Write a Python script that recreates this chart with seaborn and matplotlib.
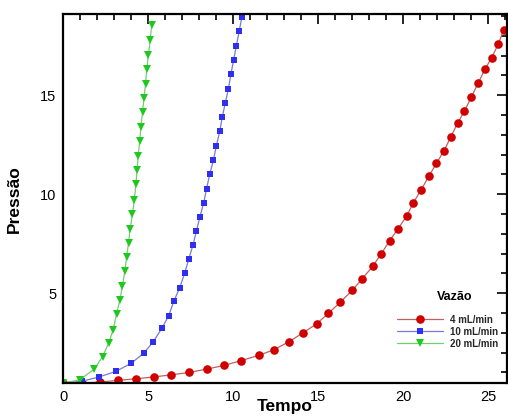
import matplotlib
matplotlib.use("Agg")
import matplotlib.pyplot as plt
import seaborn as sns
import pandas as pd
from matplotlib.ticker import MultipleLocator

sns.set_theme(style="white")
plt.rcParams['font.family'] = ['Liberation Sans', 'DejaVu Sans']

# marker points (Tempo, Pressão)
t_4 = [0.0, 1.08, 2.15, 3.23, 4.27, 5.32, 6.36, 7.42, 8.45, 9.45, 10.47, 11.5, 12.4,
       13.3, 14.1, 14.9, 15.6, 16.3, 17.0, 17.6, 18.2, 18.7, 19.2, 19.7, 20.2, 20.6,
       21.05, 21.5, 21.95, 22.4, 22.8, 23.2, 23.6, 24.0, 24.4, 24.8, 25.2, 25.6, 25.9]
p_4 = [0.46, 0.46, 0.51, 0.6, 0.68, 0.77, 0.88, 1.0, 1.17, 1.35, 1.6, 1.86, 2.15,
       2.56, 3.0, 3.45, 3.99, 4.55, 5.15, 5.74, 6.36, 6.98, 7.66, 8.26, 8.9, 9.58,
       10.22, 10.9, 11.56, 12.2, 12.9, 13.6, 14.2, 14.9, 15.6, 16.3, 16.9, 17.6, 18.3]

t_10 = [0.0, 1.08, 2.1, 3.09, 4.01, 4.74, 5.3, 5.81, 6.2, 6.51, 6.85, 7.14, 7.38,
        7.63, 7.83, 8.04, 8.26, 8.43, 8.61, 8.83, 9.0, 9.2, 9.35, 9.53, 9.71, 9.86,
        10.02, 10.18, 10.35, 10.5]
p_10 = [0.46, 0.55, 0.77, 1.05, 1.47, 1.98, 2.56, 3.24, 3.87, 4.61, 5.28, 6.01, 6.72,
        7.44, 8.14, 8.87, 9.57, 10.28, 11.0, 11.71, 12.43, 13.17, 13.89, 14.61, 15.32,
        16.06, 16.78, 17.5, 18.24, 18.94]

t_20 = [0.0, 0.98, 1.82, 2.31, 2.68, 2.93, 3.13, 3.33, 3.48, 3.62, 3.72, 3.84, 3.93,
        4.07, 4.18, 4.27, 4.34, 4.40, 4.50, 4.56, 4.66, 4.75, 4.84, 4.91, 5.01, 5.11, 5.2]
p_20 = [0.46, 0.63, 1.17, 1.8, 2.5, 3.15, 3.94, 4.66, 5.37, 6.11, 6.82, 7.55, 8.26,
        8.98, 9.72, 10.5, 11.2, 11.94, 12.68, 13.4, 14.14, 14.87, 15.59, 16.33, 17.05,
        17.77, 18.53]

labels = ['4 mL/min', '10 mL/min', '20 mL/min']

series = [
    (t_4, p_4, labels[0], 'o', '#d00000', '#c06060', 6.2),
    (t_10, p_10, labels[1], 's', '#2f2fee', '#7878dc', 4.6),
    (t_20, p_20, labels[2], 'v', '#1fc81f', '#70d070', 5.6),
]

fig = plt.figure(figsize=(5.08, 4.16), dpi=100)
ax = fig.add_axes([0.1246, 0.0786, 0.8734, 0.8877])

for t, p, lab, mk, mcol, lcol, ms in series:
    df = pd.DataFrame({'Tempo': t, 'Pressão': p})
    sns.lineplot(data=df, x='Tempo', y='Pressão', ax=ax, color=lcol, lw=0.9,
                 marker=mk, markersize=ms, markerfacecolor=mcol,
                 markeredgewidth=0, estimator=None, sort=False, label=lab)

ax.set_xlim(0, 26.1)
ax.set_ylim(0.45, 19.1)
ax.xaxis.set_major_locator(MultipleLocator(5))
ax.xaxis.set_minor_locator(MultipleLocator(1))
ax.yaxis.set_major_locator(MultipleLocator(5))
ax.yaxis.set_minor_locator(MultipleLocator(1))
ax.tick_params(which='both', direction='in', top=True, right=True, color='black',
               width=1.2, labelcolor='black')
ax.tick_params(which='major', length=7, labelsize=10.5, pad=5)
ax.tick_params(which='minor', length=4)
for s in ax.spines.values():
    s.set_color('black')
    s.set_linewidth(1.6)

ax.set_xlabel('Tempo', fontsize=12.5, fontweight='bold', color='black')
ax.xaxis.set_label_coords(0.5, -0.064)
ax.xaxis.label.set_va('center')
ax.set_ylabel('Pressão', fontsize=12.5, fontweight='bold', color='black')
ax.yaxis.set_label_coords(-0.093, 0.5)

leg = ax.legend(loc='lower right', bbox_to_anchor=(1.0, 0.07),
                frameon=False, prop={'size': 7, 'weight': 'bold'},
                handlelength=4.8, labelspacing=0.2, handletextpad=0.7)
ax.text(0.883, 0.234, 'Vazão', transform=ax.transAxes, ha='center', va='center',
        fontsize=9, fontweight='bold', color='black')

fig.savefig('out.png', dpi=100)
